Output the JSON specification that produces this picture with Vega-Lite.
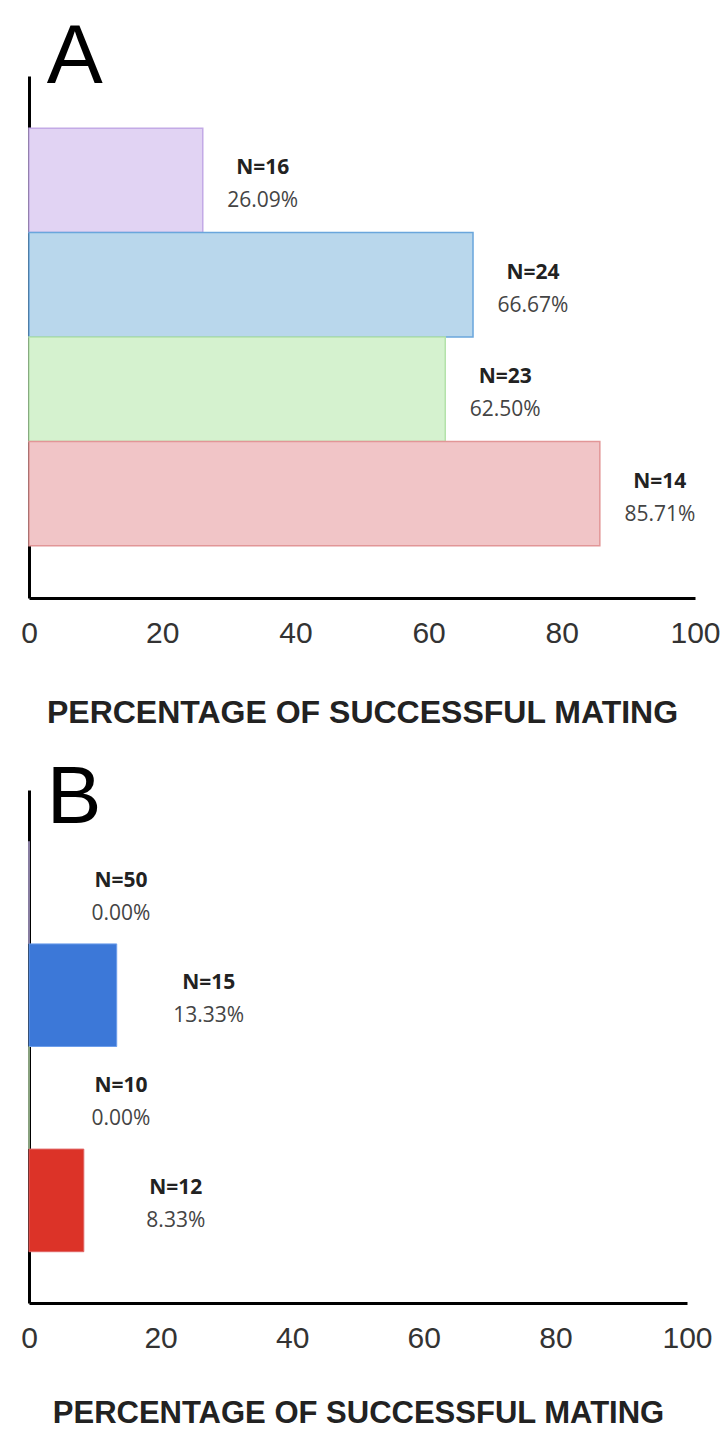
{
  "$schema": "https://vega.github.io/schema/vega-lite/v6.json",
  "background": "white",
  "padding": {"left": 20, "top": 16, "right": 0, "bottom": 0},
  "datasets": {
    "a": [
      {"group": "Group 1", "pct": 26.09, "n_label": "N=16", "pct_label": "26.09%"},
      {"group": "Group 2", "pct": 66.67, "n_label": "N=24", "pct_label": "66.67%"},
      {"group": "Group 3", "pct": 62.50, "n_label": "N=23", "pct_label": "62.50%"},
      {"group": "Group 4", "pct": 85.71, "n_label": "N=14", "pct_label": "85.71%"}
    ],
    "b": [
      {"group": "Group 1", "pct": 0.00, "n_label": "N=50", "pct_label": "0.00%"},
      {"group": "Group 2", "pct": 13.33, "n_label": "N=15", "pct_label": "13.33%"},
      {"group": "Group 3", "pct": 0.00, "n_label": "N=10", "pct_label": "0.00%"},
      {"group": "Group 4", "pct": 8.33, "n_label": "N=12", "pct_label": "8.33%"}
    ]
  },
  "spacing": 29,
  "resolve": {"scale": {"x": "independent", "y": "independent", "fill": "independent", "stroke": "independent"}},
  "vconcat": [
    {
      "title": {"text": "A", "anchor": "start", "fontSize": 84, "font": "Liberation Sans", "fontWeight": "normal", "color": "black", "baseline": "alphabetic", "offset": -91, "dx": 26},
      "width": 666,
      "height": 522,
      "data": {"name": "a"},
      "encoding": {
        "y": {"field": "group", "type": "nominal", "sort": null,
              "scale": {"paddingInner": 0, "paddingOuter": 0.5},
              "axis": {"labels": false, "ticks": false, "title": null, "domainColor": "black", "domainWidth": 3}}
      },
      "layer": [
        {
          "mark": {"type": "bar", "strokeWidth": 1.5},
          "encoding": {
            "x": {"field": "pct", "type": "quantitative", "scale": {"domain": [0, 100]},
                  "axis": {"values": [0, 20, 40, 60, 80, 100], "grid": false, "ticks": false, "domainColor": "black", "domainWidth": 3,
                           "labelFlush": false, "labelOverlap": false, "labelFontSize": 30, "labelFont": "Liberation Sans", "labelColor": "#333", "labelPadding": 20,
                           "title": "PERCENTAGE OF SUCCESSFUL MATING", "titleFontSize": 32, "titleFont": "Liberation Sans", "titleFontWeight": "bold", "titleColor": "#222", "titlePadding": 49}},
            "fill": {"field": "group", "type": "nominal", "legend": null,
                     "scale": {"domain": ["Group 1", "Group 2", "Group 3", "Group 4"], "range": ["#e1d3f3", "#b9d7ec", "#d5f2cf", "#f1c5c7"]}},
            "stroke": {"field": "group", "type": "nominal", "legend": null,
                       "scale": {"domain": ["Group 1", "Group 2", "Group 3", "Group 4"], "range": ["#c3aae6", "#6aa6dc", "#b4e2aa", "#e29697"]}}
          }
        },
        {
          "mark": {"type": "text", "align": "center", "baseline": "middle", "dx": 60, "dy": -12, "fontWeight": "bold", "fontSize": 21, "font": "Open Sans", "color": "#222"},
          "encoding": {"x": {"field": "pct", "type": "quantitative"}, "text": {"field": "n_label"}}
        },
        {
          "mark": {"type": "text", "align": "center", "baseline": "middle", "dx": 60, "dy": 21, "fontSize": 21, "font": "Open Sans", "color": "#444"},
          "encoding": {"x": {"field": "pct", "type": "quantitative"}, "text": {"field": "pct_label"}}
        }
      ]
    },
    {
      "title": {"text": "B", "anchor": "start", "fontSize": 82, "font": "Liberation Sans", "fontWeight": "normal", "color": "black", "baseline": "alphabetic", "offset": -115, "dx": 26},
      "width": 658,
      "height": 513,
      "data": {"name": "b"},
      "encoding": {
        "y": {"field": "group", "type": "nominal", "sort": null,
              "scale": {"paddingInner": 0, "paddingOuter": 0.5},
              "axis": {"labels": false, "ticks": false, "title": null, "domainColor": "black", "domainWidth": 3}}
      },
      "layer": [
        {
          "mark": {"type": "bar", "strokeWidth": 1},
          "encoding": {
            "x": {"field": "pct", "type": "quantitative", "scale": {"domain": [0, 100]},
                  "axis": {"values": [0, 20, 40, 60, 80, 100], "grid": false, "ticks": false, "domainColor": "black", "domainWidth": 3,
                           "labelFlush": false, "labelOverlap": false, "labelFontSize": 30, "labelFont": "Liberation Sans", "labelColor": "#333", "labelPadding": 20,
                           "title": "PERCENTAGE OF SUCCESSFUL MATING", "titleFontSize": 31, "titleFont": "Liberation Sans", "titleFontWeight": "bold", "titleColor": "#222", "titlePadding": 45}},
            "fill": {"field": "group", "type": "nominal", "legend": null,
                     "scale": {"domain": ["Group 1", "Group 2", "Group 3", "Group 4"], "range": ["#8e7cc3", "#3c78d8", "#93c47d", "#dc3328"]}},
            "stroke": {"field": "group", "type": "nominal", "legend": null,
                       "scale": {"domain": ["Group 1", "Group 2", "Group 3", "Group 4"], "range": ["#b4a7d6", "#6d9eeb", "#b6d7a8", "#e06666"]}}
          }
        },
        {
          "mark": {"type": "text", "align": "center", "baseline": "middle", "dx": 92, "dy": -12, "fontWeight": "bold", "fontSize": 21, "font": "Open Sans", "color": "#222"},
          "encoding": {"x": {"field": "pct", "type": "quantitative"}, "text": {"field": "n_label"}}
        },
        {
          "mark": {"type": "text", "align": "center", "baseline": "middle", "dx": 92, "dy": 21, "fontSize": 21, "font": "Open Sans", "color": "#444"},
          "encoding": {"x": {"field": "pct", "type": "quantitative"}, "text": {"field": "pct_label"}}
        }
      ]
    }
  ],
  "config": {"view": {"stroke": null}}
}
